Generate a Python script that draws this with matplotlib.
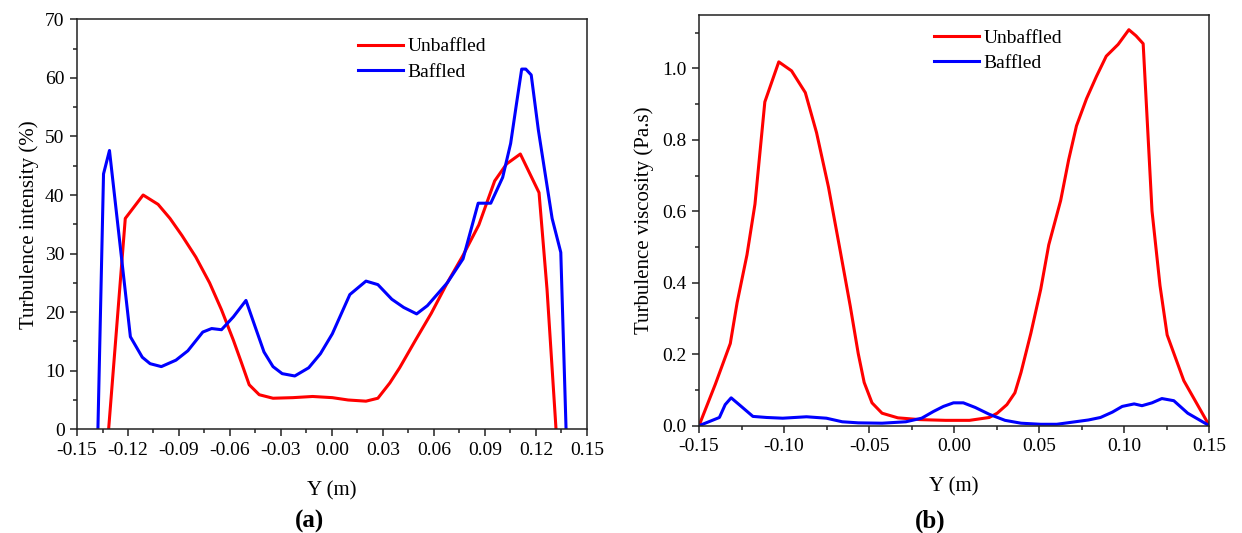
import matplotlib.pyplot as plt
from matplotlib.ticker import MultipleLocator, FormatStrFormatter

plt.rcParams['font.family'] = ['Liberation Serif', 'DejaVu Serif']

# (a) turbulence intensity across the tank, %
y_int_unbaffled = [-0.1314, -0.1216, -0.1111, -0.1023, -0.0953, -0.0883, -0.0801, -0.072,
                   -0.065, -0.058, -0.0533, -0.0487, -0.0428, -0.0347, -0.023, -0.0114,
                   0.0002, 0.0095, 0.020, 0.027, 0.034, 0.0398, 0.0491, 0.0584, 0.0678,
                   0.0771, 0.0864, 0.0957, 0.1027, 0.1108, 0.1218, 0.1265, 0.1318]
ti_unbaffled = [0, 36.0, 40.0, 38.4, 36.0, 33.1, 29.4, 25.0,
                20.4, 15.2, 11.4, 7.6, 5.9, 5.3, 5.4, 5.6,
                5.4, 5.0, 4.8, 5.3, 7.9, 10.5, 15.2, 19.8, 25.0,
                29.7, 34.9, 42.4, 45.3, 47.0, 40.4, 23.9, 0]

y_int_baffled = [-0.1377, -0.1344, -0.1309, -0.1186, -0.1116, -0.107, -0.1004, -0.0918,
                 -0.0848, -0.076, -0.0708, -0.065, -0.058, -0.0506, -0.0452, -0.040,
                 -0.0347, -0.0293, -0.0219, -0.0137, -0.0068, 0.0002, 0.0105, 0.020,
                 0.027, 0.0352, 0.0422, 0.0498, 0.0561, 0.0678, 0.0771, 0.086, 0.0934,
                 0.1004, 0.1051, 0.1086, 0.1116, 0.114, 0.1172, 0.1214, 0.1295, 0.1346,
                 0.1377]
ti_baffled = [0, 43.6, 47.6, 15.8, 12.3, 11.2, 10.7, 11.8,
              13.4, 16.6, 17.2, 17.0, 19.2, 22.0, 17.5, 13.2,
              10.7, 9.5, 9.1, 10.5, 12.9, 16.3, 23.0, 25.3,
              24.7, 22.2, 20.8, 19.7, 21.1, 25.0, 29.1, 38.6, 38.6,
              43.0, 48.8, 55.7, 61.5, 61.5, 60.5, 51.1, 36.0, 30.2,
              0]

# (b) turbulence viscosity across the tank, Pa.s
y_vis_unbaffled = [-0.15, -0.1404, -0.1316, -0.1276, -0.1218, -0.1171, -0.1113, -0.1031,
                   -0.0956, -0.0875, -0.0809, -0.0739, -0.0669, -0.0611, -0.0564, -0.0529,
                   -0.0483, -0.0424, -0.0331, -0.020, -0.005, 0.009, 0.0206, 0.0253,
                   0.031, 0.0357, 0.0393, 0.0451, 0.0509, 0.0556, 0.0626, 0.0673, 0.0719,
                   0.0778, 0.0836, 0.0894, 0.0964, 0.1027, 0.1069, 0.1111, 0.1163, 0.121,
                   0.1252, 0.135, 0.15]
tv_unbaffled = [0, 0.116, 0.230, 0.344, 0.478, 0.620, 0.906, 1.018,
                0.993, 0.932, 0.820, 0.668, 0.487, 0.335, 0.202, 0.121,
                0.064, 0.035, 0.022, 0.017, 0.015, 0.015, 0.023, 0.035,
                0.059, 0.092, 0.149, 0.259, 0.382, 0.506, 0.630, 0.744, 0.839,
                0.915, 0.977, 1.034, 1.067, 1.108, 1.091, 1.069, 0.601, 0.392,
                0.254, 0.126, 0]

y_vis_baffled = [-0.15, -0.138, -0.1346, -0.1311, -0.1264, -0.1183, -0.1102, -0.1008,
                 -0.0868, -0.0751, -0.0658, -0.0564, -0.0424, -0.0284, -0.0191, -0.0121,
                 -0.0063, -0.0004, 0.0054, 0.0124, 0.0206, 0.0299, 0.0393, 0.0509,
                 0.0603, 0.0696, 0.0789, 0.086, 0.093, 0.0988, 0.1058, 0.1104, 0.1163,
                 0.1221, 0.1291, 0.1373, 0.15]
tv_baffled = [0, 0.023, 0.059, 0.078, 0.059, 0.026, 0.023, 0.021,
              0.025, 0.021, 0.011, 0.008, 0.007, 0.011, 0.021, 0.040,
              0.054, 0.064, 0.064, 0.051, 0.032, 0.015, 0.007, 0.004,
              0.004, 0.010, 0.016, 0.023, 0.038, 0.054, 0.061, 0.056, 0.064,
              0.076, 0.070, 0.035, 0]

fig = plt.figure(figsize=(12.42, 5.33), dpi=100)
ax1 = fig.add_axes([0.062, 0.1946, 0.4106, 0.7692])
ax2 = fig.add_axes([0.5628, 0.2013, 0.4109, 0.7711])

lw = 2.2
ax1.plot(y_int_unbaffled, ti_unbaffled, color='#ff0000', lw=lw, label='Unbaffled')
ax1.plot(y_int_baffled, ti_baffled, color='#0000ff', lw=lw, label='Baffled')
ax2.plot(y_vis_unbaffled, tv_unbaffled, color='#ff0000', lw=lw, label='Unbaffled')
ax2.plot(y_vis_baffled, tv_baffled, color='#0000ff', lw=lw, label='Baffled')

ax1.set_xlim(-0.15, 0.15)
ax1.set_ylim(0, 70)
ax1.xaxis.set_major_locator(MultipleLocator(0.03))
ax1.xaxis.set_minor_locator(MultipleLocator(0.015))
ax1.yaxis.set_major_locator(MultipleLocator(10))
ax1.yaxis.set_minor_locator(MultipleLocator(5))
ax1.xaxis.set_major_formatter(FormatStrFormatter('%.2f'))
ax1.set_ylabel('Turbulence intensity (%)', fontsize=15, labelpad=4)

ax2.set_xlim(-0.15, 0.15)
ax2.set_ylim(0, 1.15)
ax2.xaxis.set_major_locator(MultipleLocator(0.05))
ax2.xaxis.set_minor_locator(MultipleLocator(0.025))
ax2.yaxis.set_major_locator(MultipleLocator(0.2))
ax2.yaxis.set_minor_locator(MultipleLocator(0.1))
ax2.xaxis.set_major_formatter(FormatStrFormatter('%.2f'))
ax2.yaxis.set_major_formatter(FormatStrFormatter('%.1f'))
ax2.set_ylabel('Turbulence viscosity (Pa.s)', fontsize=15, labelpad=6)

for ax in (ax1, ax2):
    ax.set_xlabel('Y (m)', fontsize=15, labelpad=16)
    ax.tick_params(which='both', direction='out', top=False, right=False,
                   labelsize=14, width=1.1, color='#222222')
    ax.tick_params(which='major', length=5, pad=4)
    ax.tick_params(which='minor', length=3)
    for sp in ax.spines.values():
        sp.set_linewidth(1.1)
        sp.set_color('#222222')

leg_kw = dict(loc='upper left', frameon=False, fontsize=14, handlelength=2.3,
              handletextpad=0.25, labelspacing=0.4, borderaxespad=0, borderpad=0)
ax1.legend(bbox_to_anchor=(0.551, 0.955), **leg_kw)
ax2.legend(bbox_to_anchor=(0.461, 0.965), **leg_kw)

fig.text(0.2495, 0.0225, '(a)', ha='center', va='center', fontsize=18, fontweight='bold')
fig.text(0.749, 0.0225, '(b)', ha='center', va='center', fontsize=18, fontweight='bold')

fig.savefig('out.png', dpi=100)
